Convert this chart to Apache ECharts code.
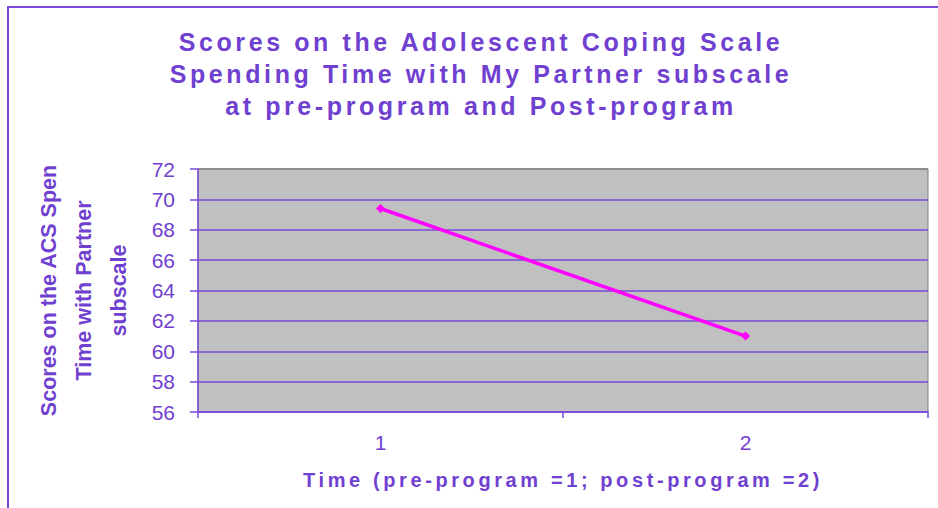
<!DOCTYPE html>
<html>
<head>
<meta charset="utf-8">
<script src="https://cdn.jsdelivr.net/npm/echarts@6/dist/echarts.min.js"></script>
<style>
  html, body { margin: 0; padding: 0; background: #ffffff; }
  #chart { width: 938px; height: 508px; }
  #chart text[style*="Arimo"] { letter-spacing: 3.6px; }
</style>
</head>
<body>
<div id="chart"></div>
<script>
// ---- data ----
const titleLines = [
  'Scores on the Adolescent Coping Scale',
  'Spending Time with My Partner subscale',
  'at pre-program and Post-program'
];
const xAxisTitle = 'Time (pre-program =1; post-program =2)';
const yAxisTitle = 'Scores on the ACS Spending\nTime with Partner\nsubscale';
const categories = ['1', '2'];
const scores = [69.4, 61.0];
const yMin = 56;
const yMax = 72;
const yStep = 2;

// ---- styles ----
const purple = '#7040d0';
const lineColor = '#7a48dc';
const spacedFont = '"Liberation Sans", Arimo';
const plainFont = '"Liberation Sans"';

const chart = echarts.init(document.getElementById('chart'), null, { renderer: 'svg' });

const splitColors = [];
for (let v = yMin; v <= yMax; v += yStep) {
  splitColors.push(v === yMax ? '#808080' : lineColor);
}

chart.setOption({
  animation: false,
  backgroundColor: '#ffffff',
  title: {
    text: titleLines.join('\n'),
    left: 481,
    top: 26,
    padding: 0,
    textAlign: 'center',
    textStyle: {
      fontFamily: spacedFont,
      fontSize: 25,
      fontWeight: 'bold',
      color: purple,
      lineHeight: 32
    }
  },
  graphic: [{
    type: 'rect',
    shape: { x: 8, y: 7, width: 1000, height: 600 },
    style: { fill: 'none', stroke: lineColor, lineWidth: 2 },
    silent: true
  }],
  grid: {
    left: 198, right: 10, top: 169, bottom: 96,
    show: true,
    backgroundColor: '#c0c0c0',
    borderColor: '#808080',
    borderWidth: 1
  },
  xAxis: {
    type: 'category',
    data: categories,
    boundaryGap: true,
    name: xAxisTitle,
    nameLocation: 'middle',
    nameGap: 58,
    nameTextStyle: {
      fontFamily: spacedFont,
      fontSize: 20,
      fontWeight: 'bold',
      color: purple
    },
    axisLine: { show: true, lineStyle: { color: lineColor, width: 1.5 } },
    axisTick: { show: true, length: 6, lineStyle: { color: lineColor, width: 1.5 } },
    axisLabel: {
      margin: 20,
      fontFamily: plainFont,
      fontSize: 21,
      color: purple
    },
    splitLine: { show: false }
  },
  yAxis: {
    type: 'value',
    min: yMin,
    max: yMax,
    interval: yStep,
    name: yAxisTitle,
    nameLocation: 'middle',
    nameRotate: 90,
    nameGap: 62,
    nameTruncate: { maxWidth: 258, ellipsis: '' },
    nameTextStyle: {
      fontFamily: plainFont,
      fontSize: 21.5,
      fontWeight: 'bold',
      color: purple,
      lineHeight: 35
    },
    axisLine: { show: true, lineStyle: { color: lineColor, width: 1.5 } },
    axisTick: { show: true, length: 8, lineStyle: { color: lineColor, width: 1.5 } },
    axisLabel: {
      margin: 23,
      fontFamily: plainFont,
      fontSize: 21,
      color: purple
    },
    splitLine: { show: true, lineStyle: { color: splitColors, width: 1.5 } }
  },
  series: [{
    type: 'line',
    data: scores,
    symbol: 'diamond',
    symbolSize: 9,
    lineStyle: { color: '#ff00ff', width: 3.5 },
    itemStyle: { color: '#ff00ff' },
    z: 5
  }]
});
</script>
</body>
</html>
